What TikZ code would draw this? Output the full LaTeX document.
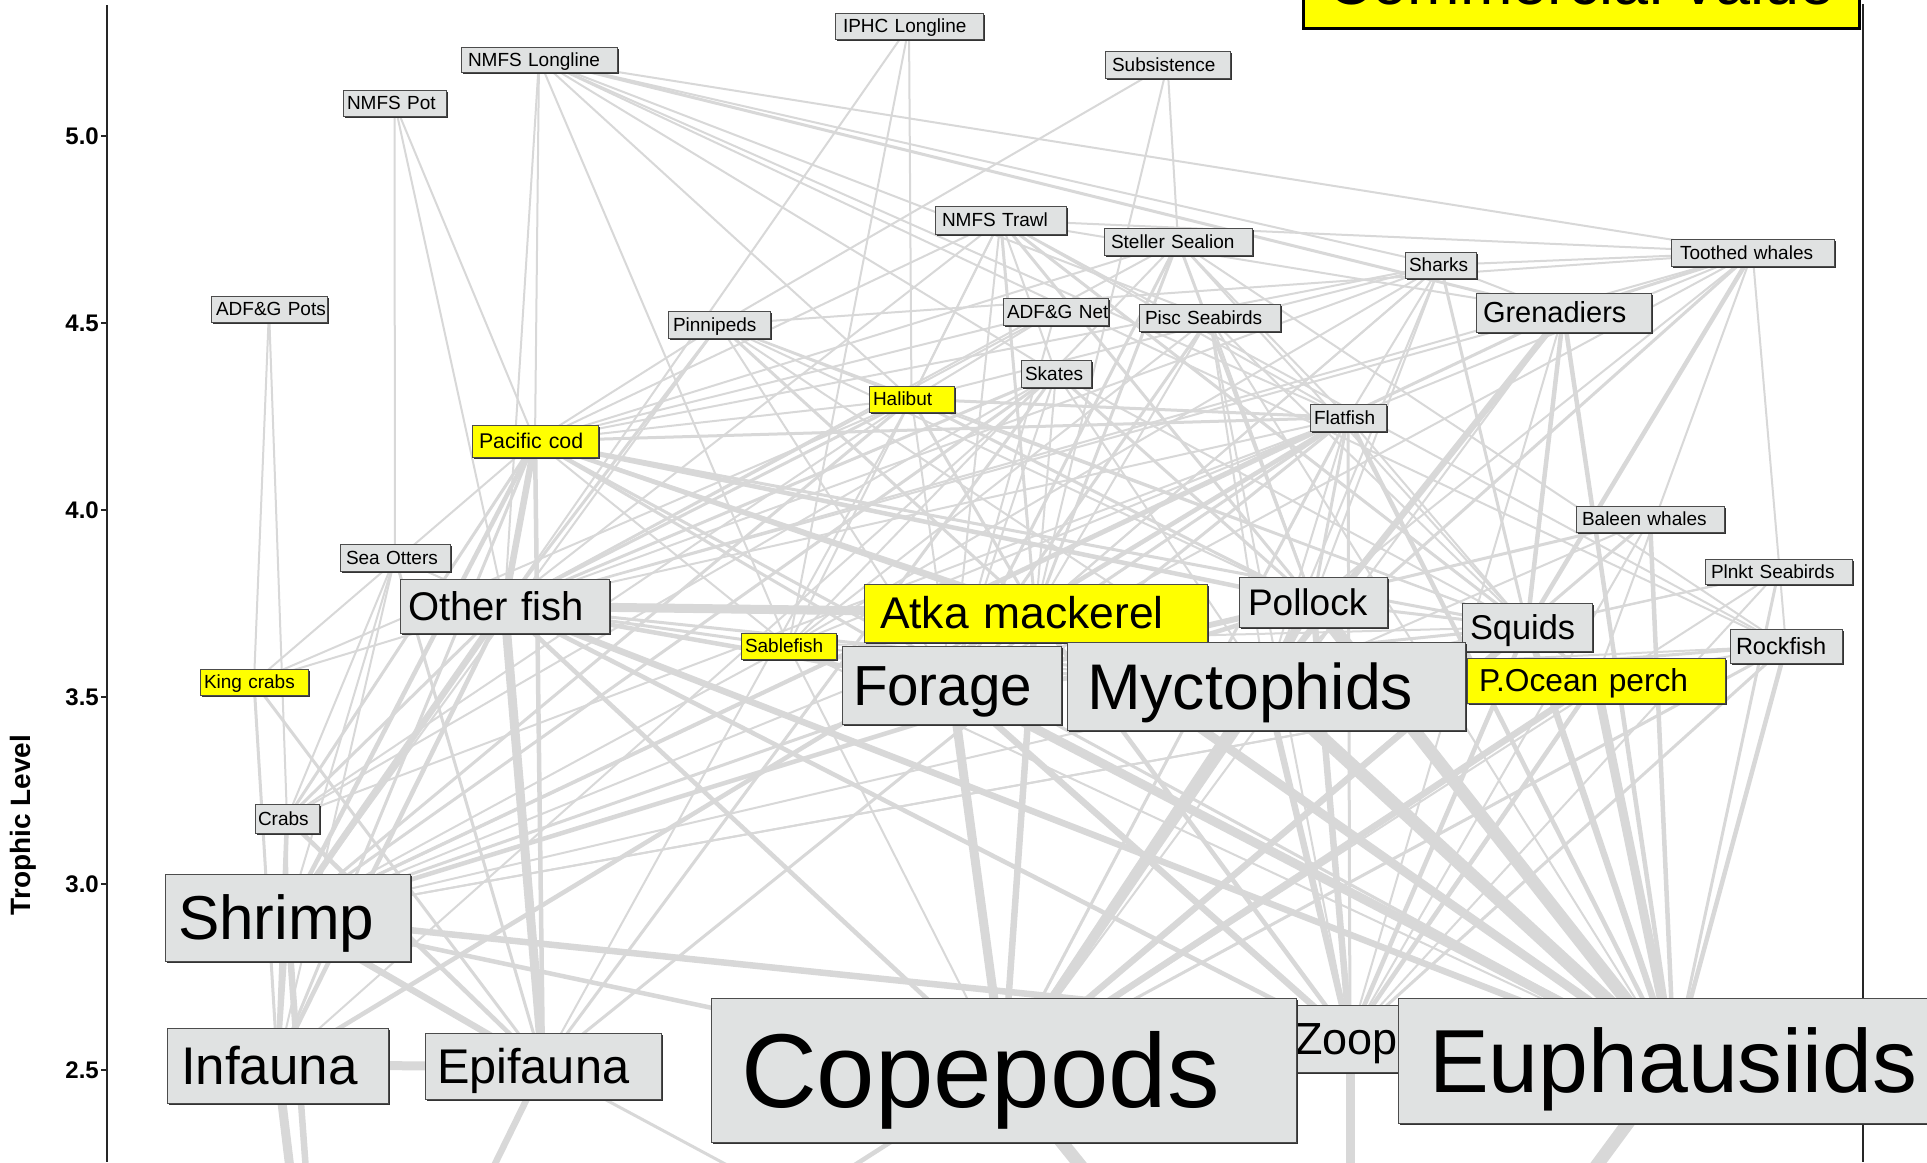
\documentclass[tikz,border=0pt]{standalone}
\usepackage{fontspec}
\setmainfont{Liberation Sans}
\usetikzlibrary{shadows}
\pgfdeclarelayer{background}
\pgfdeclarelayer{edges}
\pgfsetlayers{background,edges,main}
\definecolor{edgegray}{RGB}{216,216,216}
\definecolor{boxgray}{RGB}{224,226,226}
\definecolor{hiyellow}{RGB}{255,255,0}
\newcommand{\fwnode}[9]{%
  \pgfmathsetmacro\fwcx{(#2+#4)/2}%
  \pgfmathsetmacro\fwcy{(#3+#5)/2}%
  \pgfmathsetmacro\fwtw{#4-#2-2*#6}%
  \pgfmathsetmacro\fwbh{#5-#3}%
  \pgfmathsetmacro\fwth{0.72*#7}%
  \node[box, fill=#8, inner xsep=#6pt, text width=\fwtw pt, minimum height=\fwbh pt,
        text height=\fwth pt, text depth=0pt, font=\fontsize{#7}{#7}\selectfont]
        (#1) at (\fwcx,\fwcy) {\mbox{#9}};%
}
\begin{document}
\begin{tikzpicture}[x=1pt,y=-1pt,
  box/.style={draw=black!70, line width=1pt, inner ysep=0pt, align=left,
    drop shadow={shadow xshift=2pt, shadow yshift=-2pt, fill=black!80, opacity=1}},
  link/.style={draw=edgegray, line cap=butt},
  axisline/.style={draw=black!85, line width=2pt},
  ticklab/.style={anchor=east, inner sep=0pt, font=\bfseries\fontsize{24}{24}\selectfont}]
\useasboundingbox (0,0) rectangle (1927,1162);

% ---------- nodes ----------
\fwnode{iphc}{835}{13}{983}{39}{8}{19}{boxgray}{IPHC Longline}
\fwnode{nlong}{461}{47}{617}{72}{7}{19}{boxgray}{NMFS Longline}
\fwnode{npot}{343}{90}{446}{116}{4}{19}{boxgray}{NMFS Pot}
\fwnode{subs}{1105}{51}{1230}{78}{7}{19}{boxgray}{Subsistence}
\fwnode{ntrawl}{935}{206}{1066}{234}{7}{19}{boxgray}{NMFS Trawl}
\fwnode{stel}{1104}{228}{1252}{255}{7}{19}{boxgray}{Steller Sealion}
\fwnode{shark}{1405}{252}{1476}{278}{4}{19}{boxgray}{Sharks}
\fwnode{tooth}{1671}{239}{1834}{266}{9}{19}{boxgray}{Toothed whales}
\fwnode{apots}{211}{296}{327}{322}{5}{19}{boxgray}{ADF\&G Pots}
\fwnode{pinn}{668}{311}{770}{338}{5}{19}{boxgray}{Pinnipeds}
\fwnode{anet}{1003}{298}{1108}{325}{4}{19}{boxgray}{ADF\&G Net}
\fwnode{pisc}{1139}{304}{1280}{331}{6}{19}{boxgray}{Pisc Seabirds}
\fwnode{gren}{1476}{293}{1651}{332}{7}{29}{boxgray}{Grenadiers}
\fwnode{skate}{1021}{360}{1091}{387}{4}{19}{boxgray}{Skates}
\fwnode{hali}{869}{386}{954}{412}{4}{19}{hiyellow}{Halibut}
\fwnode{pcod}{472}{425}{598}{457}{7}{21.3}{hiyellow}{Pacific cod}
\fwnode{flat}{1310}{404}{1386}{431}{4}{19}{boxgray}{Flatfish}
\fwnode{baleen}{1576}{506}{1724}{532}{6}{19}{boxgray}{Baleen whales}
\fwnode{otter}{340}{544}{450}{571}{6}{19}{boxgray}{Sea Otters}
\fwnode{plnkt}{1705}{559}{1852}{584}{6}{19}{boxgray}{Plnkt Seabirds}
\fwnode{ofish}{400}{579}{609}{633}{8}{40}{boxgray}{Other fish}
\fwnode{atka}{864}{584}{1207}{642}{16}{44.4}{hiyellow}{Atka mackerel}
\fwnode{poll}{1239}{577}{1387}{627}{9}{37}{boxgray}{Pollock}
\fwnode{squid}{1462}{603}{1592}{651}{8}{34.4}{boxgray}{Squids}
\fwnode{rock}{1730}{629}{1842}{663}{6}{23.5}{boxgray}{Rockfish}
\fwnode{sable}{741}{633}{836}{659}{4}{19}{hiyellow}{Sablefish}
\fwnode{king}{200}{669}{308}{695}{4}{19}{hiyellow}{King crabs}
\fwnode{crab}{255}{804}{319}{833}{3}{19}{boxgray}{Crabs}
\fwnode{forage}{842}{646}{1061}{724}{11}{56.5}{boxgray}{Forage}
\fwnode{myct}{1067}{642}{1465}{730}{20}{64.5}{boxgray}{Myctophids}
\fwnode{pop}{1467}{658}{1725}{703}{12}{31.7}{hiyellow}{P.Ocean perch}
\fwnode{shrimp}{165}{874}{410}{961}{13}{62}{boxgray}{Shrimp}
\fwnode{infa}{167}{1028}{388}{1103}{14}{53}{boxgray}{Infauna}
\fwnode{epi}{425}{1033}{661}{1099}{12}{48.7}{boxgray}{Epifauna}
\fwnode{zoop}{1290}{1005}{1410}{1072}{5}{45}{boxgray}{Zoop}
\fwnode{cope}{711}{998}{1296}{1142}{30}{105}{boxgray}{Copepods}
\fwnode{euph}{1398}{998}{1950}{1123}{31}{89.6}{boxgray}{Euphausiids}

\coordinate (phyto) at (1350,1500);
\coordinate (detr) at (330,1500);

% title box (mostly above the page)
\node[draw=black, line width=3pt, fill=hiyellow, inner xsep=24pt, inner ysep=0pt,
      text width=508pt, minimum height=93pt, text height=45.4pt, text depth=0pt,
      align=left, font=\fontsize{63}{63}\selectfont] (title) at (1581,-18.5) {\mbox{Commercial value}};

% axis labels
\node[rotate=90, inner sep=0pt, font=\bfseries\fontsize{28}{28}\selectfont] (ylabel) at (23,825) {Trophic Level};
\foreach \v/\yy/\nm in {5.0/136/ta, 4.5/323/tb, 4.0/510/tc, 3.5/697/td, 3.0/884/te, 2.5/1070/tf}{
  \node[ticklab] (\nm) at (99,\yy) {\v};
}

% ---------- background: axes ----------
\begin{pgfonlayer}{background}
  \fill[white] (0,0) rectangle (1927,1162);
  \draw[axisline] (107,5) -- (107,1162);
  \draw[axisline] (1863,4) -- (1863,1162);
  \foreach \yy in {136,323,510,697,884,1070}{
    \draw[black!85, line width=1.5pt] (101,\yy) -- (107,\yy);
  }
\end{pgfonlayer}

% ---------- edges ----------
\begin{pgfonlayer}{edges}
\foreach \a/\b/\w in {
iphc/hali/2, iphc/sable/2, iphc/ofish/2,
nlong/pcod/2, nlong/ofish/2, nlong/sable/2, nlong/hali/2, nlong/gren/3, nlong/shark/2, nlong/skate/2, nlong/flat/2, nlong/rock/2, nlong/pisc/2, nlong/tooth/2,
npot/otter/2, npot/ofish/2, npot/pcod/2,
ntrawl/poll/3, ntrawl/atka/3, ntrawl/pop/3, ntrawl/flat/2, ntrawl/rock/2, ntrawl/pcod/2, ntrawl/skate/2, ntrawl/hali/2, ntrawl/squid/2, ntrawl/sable/2, ntrawl/ofish/2, ntrawl/tooth/2, ntrawl/gren/2, ntrawl/forage/2,
apots/king/2, apots/crab/2,
anet/forage/2, anet/pcod/2, anet/hali/2, anet/ofish/2,
subs/pinn/2, subs/stel/2, subs/atka/2,
stel/poll/3, stel/atka/3, stel/pcod/2, stel/forage/3, stel/squid/2, stel/ofish/2, stel/flat/2, stel/rock/2, stel/sable/2,
pinn/forage/2, pinn/ofish/3, pinn/poll/2, pinn/squid/2, pinn/myct/2, pinn/atka/3, pinn/pcod/2, pinn/shrimp/2, pinn/hali/2,
tooth/squid/4.5, tooth/myct/3, tooth/poll/2, tooth/gren/3, tooth/forage/2, tooth/ofish/2, tooth/rock/2, tooth/shark/2, tooth/pinn/2, tooth/sable/2, tooth/pop/2,
shark/poll/2, shark/squid/3, shark/gren/2, shark/forage/2, shark/myct/2, shark/atka/2, shark/ofish/2, shark/flat/2, shark/pcod/2, shark/hali/2, shark/sable/2,
pisc/forage/3, pisc/myct/2, pisc/poll/2, pisc/squid/2, pisc/euph/2, pisc/atka/2, pisc/zoop/2, pisc/sable/2,
baleen/euph/4.5, baleen/cope/3, baleen/forage/3, baleen/myct/2, baleen/zoop/2,
plnkt/euph/3, plnkt/cope/2, plnkt/myct/2, plnkt/squid/2, plnkt/zoop/2,
otter/crab/2, otter/epi/3, otter/infa/2, otter/ofish/2, otter/shrimp/2,
pcod/shrimp/4.5, pcod/crab/3, pcod/epi/4.5, pcod/infa/3, pcod/ofish/6.5, pcod/poll/4.5, pcod/forage/3, pcod/atka/4.5, pcod/squid/3, pcod/myct/3, pcod/euph/3, pcod/king/2, pcod/flat/3, pcod/sable/2,
hali/poll/3, hali/forage/2, hali/ofish/3, hali/crab/2, hali/shrimp/3, hali/atka/3, hali/pcod/2, hali/flat/3, hali/squid/2, hali/epi/2, hali/king/2,
skate/shrimp/3, skate/crab/2, skate/ofish/3, skate/forage/2, skate/epi/3, skate/myct/2, skate/poll/3, skate/squid/2, skate/infa/2, skate/atka/2,
flat/infa/4.5, flat/epi/3, flat/euph/4.5, flat/cope/3, flat/shrimp/3, flat/myct/2, flat/forage/3, flat/poll/3, flat/zoop/3, flat/squid/2, flat/ofish/2, flat/crab/2,
gren/myct/6.5, gren/squid/4.5, gren/shrimp/3, gren/euph/4.5, gren/cope/2, gren/zoop/2, gren/ofish/2,
ofish/shrimp/6.5, ofish/epi/9, ofish/infa/4.5, ofish/euph/6.5, ofish/cope/4.5, ofish/crab/3, ofish/forage/4.5, ofish/zoop/4.5, ofish/atka/9, ofish/myct/3, ofish/king/2,
atka/cope/6.5, atka/euph/9, atka/zoop/4.5, atka/myct/4.5, atka/forage/3, atka/shrimp/2,
poll/euph/13, poll/cope/6.5, poll/myct/6.5, poll/forage/4.5, poll/shrimp/4.5, poll/zoop/6.5, poll/squid/3,
squid/euph/6.5, squid/cope/6.5, squid/myct/4.5, squid/zoop/4.5, squid/forage/3, squid/shrimp/2,
sable/forage/2, sable/squid/2, sable/myct/2, sable/shrimp/2, sable/euph/2, sable/ofish/3, sable/cope/2,
king/infa/3, king/epi/3,
forage/cope/9, forage/euph/9, forage/zoop/6.5, forage/shrimp/3,
myct/cope/9, myct/euph/13, myct/zoop/6.5,
pop/euph/9, pop/cope/6.5, pop/myct/4.5, pop/zoop/4.5, pop/shrimp/2, pop/squid/3,
rock/euph/4.5, rock/cope/3, rock/zoop/3, rock/shrimp/2, rock/myct/3, rock/forage/2,
crab/infa/4.5, crab/epi/4.5, crab/shrimp/2,
shrimp/euph/6.5, shrimp/epi/6.5, shrimp/infa/4.5, shrimp/cope/4.5, shrimp/detr/6.5,
infa/detr/9, epi/infa/9, epi/detr/6.5, epi/phyto/3,
cope/phyto/13, cope/detr/4.5, zoop/phyto/9, zoop/cope/4.5, euph/phyto/13, euph/cope/6.5}{
  \draw[link, line width=\w pt] (\a.center) -- (\b.center);
}
\end{pgfonlayer}
\end{tikzpicture}
\end{document}
